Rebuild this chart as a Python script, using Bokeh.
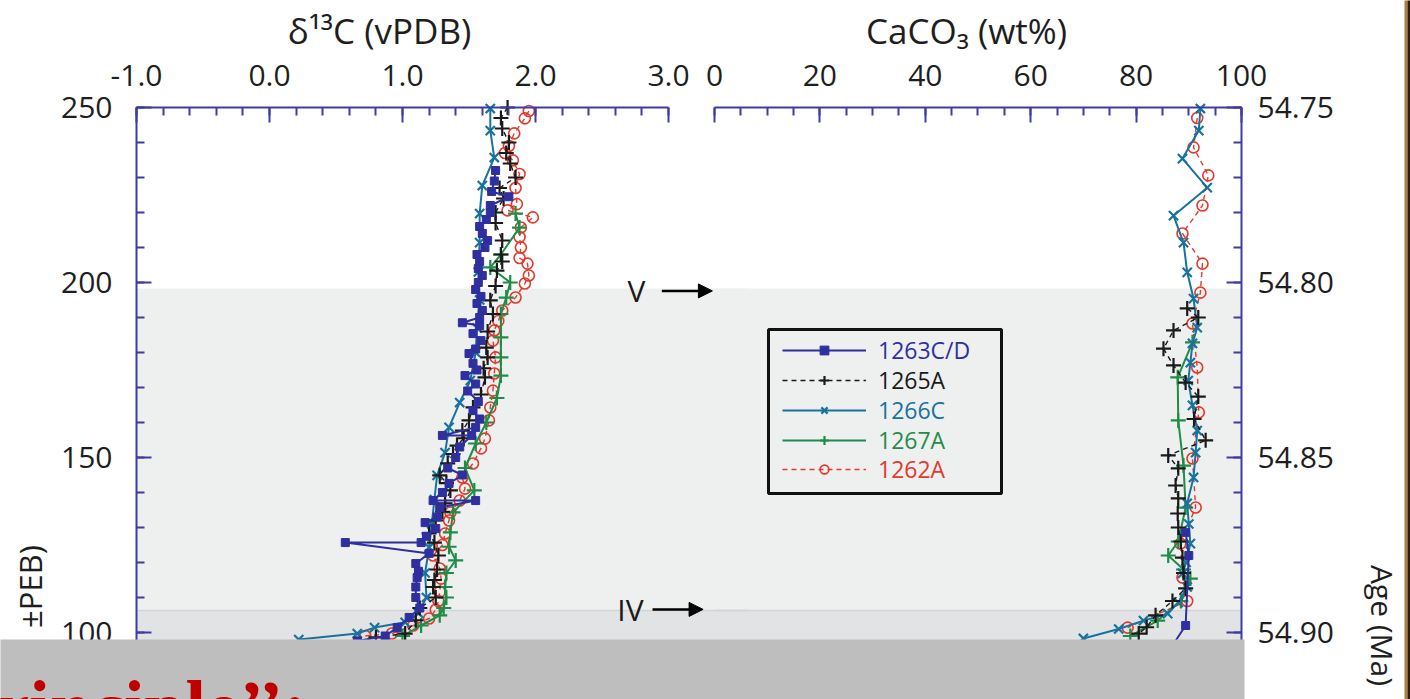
import math
from bokeh.plotting import figure
from bokeh.models import (Range1d, LinearAxis, FixedTicker, PrintfTickFormatter, Legend,
                          LegendItem, BoxAnnotation, Label, Arrow, NormalHead)
from bokeh.embed import file_html
from bokeh.resources import INLINE

# ---------------- data ----------------
sites = ["1263C/D", "1265A", "1266C", "1267A", "1262A"]

# delta13C (vPDB) vs depth
d13_1263_depth = [232, 229, 226, 224.5, 222, 220, 218, 216, 214, 212, 210, 208, 206, 204, 202, 200,
                  198, 196, 194, 192, 190, 188.5, 187.7, 185.4, 183.4, 181, 179.7, 176.9, 175, 173.4,
                  171, 169, 166, 163.4, 161, 158.6, 156.3, 156.3, 153, 150, 147, 145, 142.6, 140,
                  137.7, 137.7, 135.7, 133, 131.4, 129.7, 127.5, 125.7, 125.7, 122.6, 119.7, 117.5,
                  115.7, 113, 110, 107, 104.3, 101.4, 99, 97.6]
d13_1263_val = [1.70, 1.69, 1.67, 1.80, 1.66, 1.66, 1.63, 1.58, 1.60, 1.64, 1.62, 1.56, 1.58, 1.57,
                1.60, 1.57, 1.55, 1.59, 1.56, 1.60, 1.58, 1.45, 1.58, 1.53, 1.59, 1.55, 1.50, 1.53,
                1.56, 1.47, 1.55, 1.49, 1.57, 1.53, 1.58, 1.55, 1.30, 1.52, 1.43, 1.40, 1.34, 1.45,
                1.35, 1.30, 1.23, 1.55, 1.28, 1.26, 1.17, 1.25, 1.18, 1.14, 0.57, 1.20, 1.10, 1.12,
                1.11, 1.10, 1.10, 1.13, 1.05, 0.96, 0.87, 0.66]

d13_1265_depth = [250, 247, 244, 240, 237, 234, 230, 227, 224, 220, 217, 212, 208, 206, 203.4, 199,
                  194.9, 191, 186, 181.4, 178.6, 175.5, 172.9, 168, 164.3, 160.6, 157.7, 155.5,
                  153.4, 151, 148.3, 144.9, 142.7, 140.6, 136.9, 134.5, 132, 128.3, 125.7, 122,
                  118, 115, 113, 110, 107, 103.5, 99.7, 98.6]
d13_1265_val = [1.79, 1.74, 1.75, 1.80, 1.78, 1.81, 1.85, 1.73, 1.76, 1.70, 1.70, 1.75, 1.74, 1.75,
                1.71, 1.70, 1.66, 1.68, 1.64, 1.63, 1.64, 1.61, 1.62, 1.59, 1.53, 1.50, 1.45, 1.46,
                1.41, 1.38, 1.34, 1.28, 1.33, 1.36, 1.32, 1.30, 1.25, 1.20, 1.24, 1.27, 1.26, 1.24,
                1.23, 1.25, 1.13, 1.10, 1.02, 0.80]

d13_1266_depth = [249.7, 243.4, 235.7, 227.7, 219.7, 211.4, 203, 195, 187, 180, 172, 165.7, 158.6,
                  151.4, 144.9, 138, 131, 124.3, 117, 110, 105.5, 102.9, 101.4, 99.7, 98]
d13_1266_val = [1.66, 1.66, 1.69, 1.60, 1.58, 1.58, 1.57, 1.58, 1.56, 1.55, 1.51, 1.43, 1.35, 1.32,
                1.26, 1.24, 1.22, 1.20, 1.17, 1.18, 1.12, 1.02, 0.79, 0.66, 0.22]

d13_1267_depth = [219.7, 215.7, 208, 204.3, 200, 195.7, 191, 184.3, 178.6, 173.4, 167, 160, 154, 147,
                  140.6, 134.3, 128.6, 124.5, 120.6, 117, 113, 110, 107, 104.9, 102, 99]
d13_1267_val = [1.85, 1.88, 1.74, 1.66, 1.81, 1.78, 1.74, 1.74, 1.74, 1.74, 1.71, 1.63, 1.55, 1.47,
                1.54, 1.38, 1.36, 1.35, 1.40, 1.33, 1.32, 1.33, 1.31, 1.28, 1.14, 1.00]

d13_1262_depth = [249, 246.9, 242.6, 239, 237, 234.9, 231, 227, 222.4, 220.6, 218.6, 215.7, 213, 210,
                  207, 205.4, 202, 199.7, 195.7, 192, 189, 186.3, 183.4, 178.6, 174, 169.1, 164.3,
                  160.6, 155.4, 152.6, 148.3, 144.3, 141.1, 137.7, 134.3, 132, 128.3, 125, 122,
                  118.3, 115.4, 111.6, 109, 106.5, 104, 102, 99.7, 99]
d13_1262_val = [1.95, 1.92, 1.84, 1.80, 1.77, 1.83, 1.88, 1.85, 1.86, 1.79, 1.98, 1.89, 1.88, 1.89,
                1.88, 1.94, 1.95, 1.92, 1.85, 1.75, 1.72, 1.69, 1.68, 1.70, 1.69, 1.68, 1.66, 1.65,
                1.62, 1.59, 1.53, 1.45, 1.47, 1.43, 1.36, 1.35, 1.32, 1.30, 1.23, 1.28, 1.29, 1.28,
                1.27, 1.25, 1.20, 1.08, 0.92, 0.72]

# CaCO3 (wt%) vs depth
ca_1263_depth = [128.6, 122, 102, 96.5]
ca_1263_val = [89.4, 90.0, 89.4, 87.0]

ca_1265_depth = [192.6, 190, 186.3, 181.1, 176.3, 171.4, 167.4, 161, 154.9, 150.6, 146.9, 142, 138.3,
                 134, 130, 126, 121.4, 117, 112.6, 109, 104.9, 101.5, 99.7]
ca_1265_val = [89.7, 91.8, 87.1, 85.2, 87.1, 89.4, 91.8, 91.0, 93.2, 86.1, 88.0, 87.5, 88.0, 87.9,
               88.0, 88.5, 88.8, 89.0, 89.4, 86.9, 83.7, 82.0, 80.5]

ca_1266_depth = [249.7, 243.4, 235.4, 227.1, 219.1, 211.4, 202.9, 195.4, 187.1, 182.6, 177.1, 172,
                 164.9, 157.7, 151.4, 144.3, 136.9, 131, 125.4, 120, 116.9, 113, 108.6, 105.4,
                 103.4, 101, 98.3]
ca_1266_val = [92.2, 91.9, 88.8, 93.5, 87.1, 89.0, 89.7, 90.9, 91.6, 90.7, 90.3, 89.9, 90.7, 91.6,
               91.3, 90.9, 89.7, 90.0, 90.3, 89.5, 88.8, 89.7, 88.0, 86.0, 81.4, 76.7, 70.0]

ca_1267_depth = [182.9, 172.9, 160.6, 147.7, 135.7, 126, 122, 118, 115.4, 109, 103.4, 99]
ca_1267_val = [90.7, 87.9, 88.0, 89.0, 89.4, 88.0, 86.1, 89.0, 90.3, 88.5, 84.1, 78.9]

ca_1262_depth = [247, 238.6, 230.6, 222, 214, 205.4, 197.1, 188.3, 175.7, 162.9, 149.7, 135.7, 125.4,
                 115.7, 109, 101.4]
ca_1262_val = [91.6, 90.9, 93.7, 92.6, 88.8, 92.6, 92.2, 90.7, 91.6, 91.9, 90.7, 91.3, 88.4, 88.8,
               89.7, 78.4]

# events / shading (depth)
event_names = ["V", "IV"]
event_depths = [198.3, 106.3]

# ticks
depth_ticks = [100, 150, 200, 250]
d13_ticks = [-1.0, 0.0, 1.0, 2.0, 3.0]
caco3_ticks = [0, 20, 40, 60, 80, 100]
age_ticks = [54.75, 54.80, 54.85, 54.90]
AGE_AT_TOP = 54.75          # age at depth 250
AGE_PER_DEPTH = 0.001       # Ma per depth unit

# ---------------- view ranges (whole canvas is the plot area) ----------------
W, H = 1410, 699
DEPTH_TOP_VIEW, DEPTH_BOTTOM_VIEW = 280.571, 80.857
D13_VIEW = (-2.0226, 8.579)
CACO3_VIEW = (-135.48, 132.07)
age_top_view = AGE_AT_TOP - (DEPTH_TOP_VIEW - 250) * AGE_PER_DEPTH
age_bottom_view = AGE_AT_TOP + (250 - DEPTH_BOTTOM_VIEW) * AGE_PER_DEPTH

AXIS = "#3c3ca4"
COLORS = {"1263C/D": "#2f2f9f", "1265A": "#1a1a1a", "1266C": "#18739c",
          "1267A": "#1f8d47", "1262A": "#e23a2e"}
SHADE = "#eeefef"
SHADE_DARK = "#e2e3e5"
FONT = "Open Sans"
TXT = "#1e1e1e"

p = figure(width=W, height=H, output_backend="svg", toolbar_location=None,
           x_range=Range1d(*D13_VIEW), y_range=Range1d(DEPTH_BOTTOM_VIEW, DEPTH_TOP_VIEW),
           x_axis_location=None, y_axis_location=None,
           min_border_left=0, min_border_right=0, min_border_top=0, min_border_bottom=0)
p.extra_x_ranges = {"caco3": Range1d(*CACO3_VIEW)}
p.extra_y_ranges = {"age": Range1d(age_bottom_view, age_top_view)}
p.outline_line_color = None
p.background_fill_color = "white"
p.border_fill_color = "white"


def style_axis(ax, ticks, minor, fmt, standoff):
    ax.ticker = FixedTicker(ticks=ticks, minor_ticks=minor)
    ax.formatter = PrintfTickFormatter(format=fmt)
    ax.axis_line_color = AXIS
    ax.axis_line_width = 2
    ax.major_tick_line_color = AXIS
    ax.major_tick_line_width = 2
    ax.minor_tick_line_color = AXIS
    ax.minor_tick_line_width = 2
    ax.major_tick_in = 15
    ax.major_tick_out = 0
    ax.minor_tick_in = 8
    ax.minor_tick_out = 0
    ax.major_label_text_font = FONT
    ax.major_label_text_font_size = "30px"
    ax.major_label_text_color = TXT
    ax.major_label_standoff = standoff


# shaded intervals (under everything)
p.quad(left=[-1.0], right=[3.6], bottom=[DEPTH_BOTTOM_VIEW], top=[event_depths[0]],
       fill_color=SHADE, line_color=None)
p.quad(left=[0], right=[100], bottom=[DEPTH_BOTTOM_VIEW], top=[event_depths[0]],
       fill_color=SHADE, line_color=None, x_range_name="caco3")
p.quad(left=[-1.0], right=[3.6], bottom=[DEPTH_BOTTOM_VIEW], top=[event_depths[1]],
       fill_color=SHADE_DARK, line_color=None)
p.quad(left=[0], right=[100], bottom=[DEPTH_BOTTOM_VIEW], top=[event_depths[1]],
       fill_color=SHADE_DARK, line_color=None, x_range_name="caco3")
p.segment(x0=[-1.0], x1=[3.6], y0=[event_depths[1]], y1=[event_depths[1]],
          line_color="#d3d4d6", line_width=1.5)
p.segment(x0=[0], x1=[100], y0=[event_depths[1]], y1=[event_depths[1]],
          line_color="#d3d4d6", line_width=1.5, x_range_name="caco3")

# axes placed at fixed data locations
ax_d13 = LinearAxis(fixed_location=250, bounds=(-1.0, 3.0))
style_axis(ax_d13, d13_ticks, [round(-1 + 0.2 * i, 2) for i in range(21)], "%.1f", 21)
p.add_layout(ax_d13, "above")

ax_ca = LinearAxis(fixed_location=250, bounds=(0, 100), x_range_name="caco3")
style_axis(ax_ca, caco3_ticks, list(range(0, 101, 5)), "%d", 21)
p.add_layout(ax_ca, "above")

ax_depth = LinearAxis(fixed_location=-1.0, bounds=(DEPTH_BOTTOM_VIEW, 250))
style_axis(ax_depth, depth_ticks, list(range(90, 251, 10)), "%d", 24)
p.add_layout(ax_depth, "left")

ax_age = LinearAxis(fixed_location=100, x_range_name="caco3", y_range_name="age",
                    bounds=(AGE_AT_TOP, age_bottom_view))
style_axis(ax_age, age_ticks, [round(54.75 + 0.01 * i, 2) for i in range(18)], "%.2f", 16)
p.add_layout(ax_age, "right")

for g in p.grid:
    g.visible = False
p.xgrid.visible = False
p.ygrid.visible = False


def add_series(xs, ys, name, xr="default"):
    c = COLORS[name]
    dash = "5 4" if name in ("1265A", "1262A") else "solid"
    lw = 1.4 if name in ("1265A", "1262A") else 2.0
    lr = p.line(xs, ys, line_color=c, line_width=lw, line_dash=dash, x_range_name=xr)
    if name == "1263C/D":
        sr = p.scatter(xs, ys, marker="square", size=8, fill_color=c, line_color=c,
                       x_range_name=xr)
    elif name in ("1265A", "1267A"):
        sr = p.scatter(xs, ys, marker="cross", size=15, line_color=c, line_width=2.2,
                       x_range_name=xr)
    elif name == "1266C":
        sr = p.scatter(xs, ys, marker="x", size=13, line_color=c, line_width=2.2,
                       x_range_name=xr)
    else:
        sr = p.scatter(xs, ys, marker="circle", size=11, fill_color=None, line_color=c,
                       line_width=1.6, x_range_name=xr)
    return lr, sr


left_data = [(d13_1262_val, d13_1262_depth, "1262A"), (d13_1267_val, d13_1267_depth, "1267A"),
             (d13_1266_val, d13_1266_depth, "1266C"), (d13_1265_val, d13_1265_depth, "1265A"),
             (d13_1263_val, d13_1263_depth, "1263C/D")]
for xs, ys, nm in left_data:
    add_series(xs, ys, nm)

right_data = [(ca_1262_val, ca_1262_depth, "1262A"), (ca_1267_val, ca_1267_depth, "1267A"),
              (ca_1266_val, ca_1266_depth, "1266C"), (ca_1265_val, ca_1265_depth, "1265A"),
              (ca_1263_val, ca_1263_depth, "1263C/D")]
rends = {}
for xs, ys, nm in right_data:
    rends[nm] = add_series(xs, ys, nm, "caco3")

# event labels with arrows (in the gap between panels)
for nm, d, lx, ax0, ax1 in [("V", 197.6, 636, 2.95, 3.33), ("IV", 106.6, 630, 2.88, 3.26)]:
    p.add_layout(Label(x=lx, y=d, x_units="screen", y_units="data", text=nm,
                       text_align="center", text_baseline="middle", text_font=FONT,
                       text_font_size="30px", text_color="#1a1a1a"))
    p.add_layout(Arrow(end=NormalHead(size=14, fill_color="black", line_color="black"),
                       x_start=ax0, y_start=d, x_end=ax1, y_end=d,
                       line_color="black", line_width=2.5))

# legend: one entry per legend so every label has its own colour
legend_rows_y = [333, 303, 273, 243, 214]
for nm, ly in zip(sites, legend_rows_y):
    leg = Legend(items=[LegendItem(label=nm, renderers=list(rends[nm]))],
                 location=(782, ly), glyph_width=84, glyph_height=22, label_height=22,
                 label_standoff=12, padding=0, margin=0, spacing=0,
                 border_line_color=None, background_fill_alpha=0,
                 label_text_font=FONT, label_text_font_size="23px",
                 label_text_color=COLORS[nm], label_text_baseline="middle")
    p.add_layout(leg, "center")
p.add_layout(BoxAnnotation(left=768, right=1001, bottom=206, top=370, left_units="screen",
                           right_units="screen", bottom_units="screen", top_units="screen",
                           fill_alpha=0, line_color="#111111", line_alpha=1, line_width=3))

# axis titles
p.add_layout(Label(x=379, y=H - 30, x_units="screen", y_units="screen", text="δ¹³C (vPDB)",
                   text_align="center", text_baseline="middle", text_font=FONT,
                   text_font_size="35px", text_color=TXT))
p.add_layout(Label(x=966, y=H - 30, x_units="screen", y_units="screen", text="CaCO₃ (wt%)",
                   text_align="center", text_baseline="middle", text_font=FONT,
                   text_font_size="35px", text_color=TXT))
p.add_layout(Label(x=29, y=H - 586, x_units="screen", y_units="screen", text="±PEB)",
                   angle=math.pi / 2, text_align="center", text_baseline="middle",
                   text_font=FONT, text_font_size="31px", text_color=TXT))
p.add_layout(Label(x=1382, y=H - 625, x_units="screen", y_units="screen", text="Age (Ma)",
                   angle=-math.pi / 2, text_align="center", text_baseline="middle",
                   text_font=FONT, text_font_size="30px", text_color=TXT))

# slide overlay at the bottom
p.add_layout(BoxAnnotation(left=-5, right=1244, bottom=-20, top=H - 639, left_units="screen",
                           right_units="screen", bottom_units="screen", top_units="screen",
                           fill_color="#bebebe", fill_alpha=1, line_color=None, level="overlay"))
p.add_layout(Label(x=-4, y=-7, x_units="screen", y_units="screen", text="rinciple’’:",
                   text_font="Liberation Serif", text_font_style="bold",
                   text_font_size="74px", text_color="#c00000", text_baseline="alphabetic",
                   level="overlay"))
# dark slide edge on the right
p.add_layout(BoxAnnotation(left=1404, right=1407, bottom=-20, top=H + 20, left_units="screen",
                           right_units="screen", bottom_units="screen", top_units="screen",
                           fill_color="#b07c3c", fill_alpha=1, line_color=None, level="overlay"))
p.add_layout(BoxAnnotation(left=1407, right=1420, bottom=-20, top=H + 20, left_units="screen",
                           right_units="screen", bottom_units="screen", top_units="screen",
                           fill_color="#2e1d0e", fill_alpha=1, line_color=None, level="overlay"))

open("out.html", "w").write(file_html(p, INLINE))
